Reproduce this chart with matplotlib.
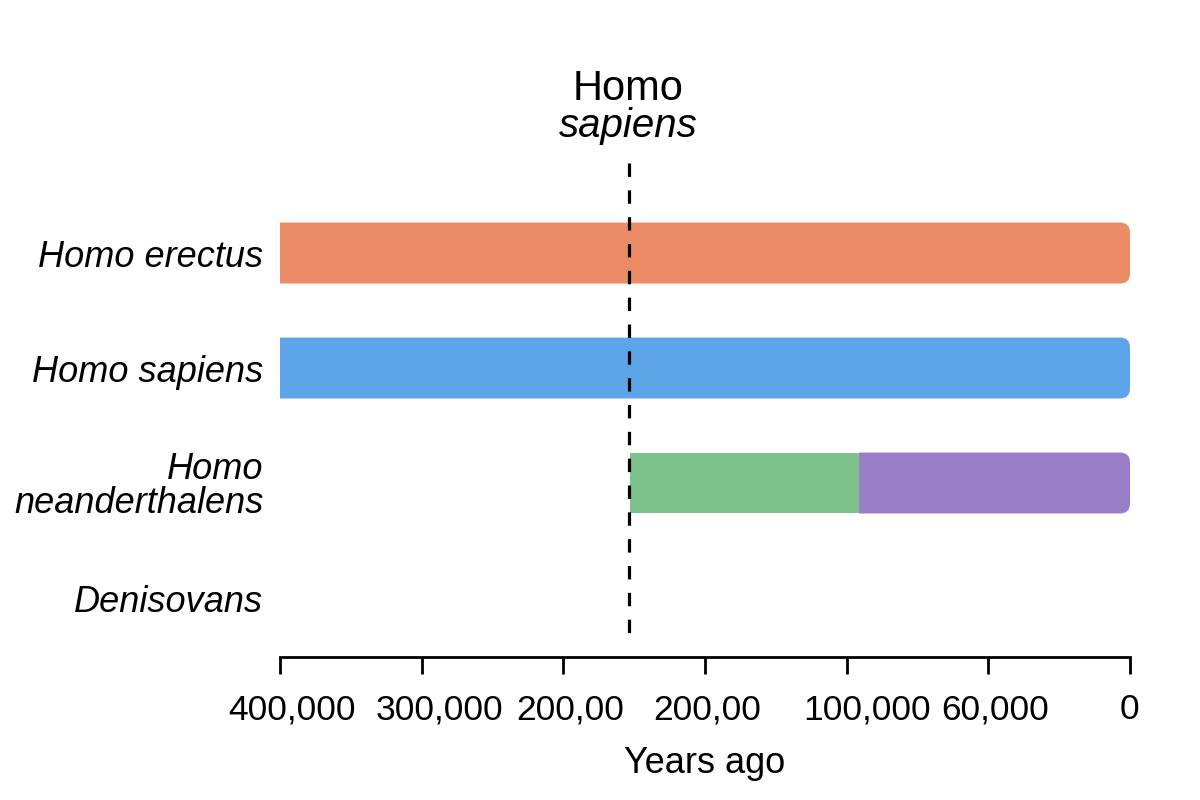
import matplotlib.pyplot as plt
from matplotlib.patches import FancyBboxPatch, Rectangle
from matplotlib.transforms import ScaledTranslation

plt.rcParams['font.family'] = ['Liberation Sans', 'DejaVu Sans']

# tick labels as printed on the axis (evenly spaced)
tick_labels = ['400,000', '300,000', '200,00', '200,00', '100,000', '60,000', '0']

species = ['Homo erectus', 'Homo sapiens', 'Homo\nneanderthalens', 'Denisovans']

# segments per species in axis (tick-index) units: (start, end, colour)
erectus_seg = [(0.0, 6.0, '#EC8C66')]
sapiens_seg = [(0.0, 6.0, '#5DA5E8')]
neander_seg = [(2.47, 4.09, '#7DC38B'), (4.09, 6.0, '#9A7EC8')]
deniso_seg = []
segments = [erectus_seg, sapiens_seg, neander_seg, deniso_seg]

sapiens_marker = 2.46

fig = plt.figure(figsize=(12, 8), dpi=100)
ax = fig.add_axes([280 / 1200, 143 / 800, 850 / 1200, 497 / 800])

ax.set_xlim(0, 6)
ax.set_ylim(3.513, -0.809)

bar_h = 0.53
rx = 10 / 141.67
aspect = (10 / 115) / rx

for i, segs in enumerate(segments):
    for j, (x0, x1, c) in enumerate(segs):
        y0 = i - bar_h / 2
        if j == len(segs) - 1:
            # rounded right end only: draw a rounded box reaching further
            # left and clip it back to the segment
            ext = 0.3
            p = FancyBboxPatch((x0 - ext, y0), x1 - x0 + ext, bar_h,
                               boxstyle=f'round,pad=0,rounding_size={rx}',
                               mutation_aspect=aspect, fc=c, ec='none',
                               zorder=2)
            ax.add_patch(p)
            clip = Rectangle((x0, y0 - 0.1), x1 - x0 + 0.2, bar_h + 0.2,
                             transform=ax.transData)
            p.set_clip_path(clip)
        else:
            ax.add_patch(Rectangle((x0, y0), x1 - x0, bar_h, fc=c, ec='none',
                                   zorder=2))

ax.plot([sapiens_marker, sapiens_marker], [-0.78, 3.38], color='black',
        lw=2.3, dashes=(4.2, 4.2), zorder=4, clip_on=False)

ax.text(sapiens_marker, -1.01, 'sapiens', ha='center', va='baseline',
        fontsize=29, style='italic', clip_on=False)
ax.text(sapiens_marker, -1.33, 'Homo', ha='center', va='baseline',
        fontsize=30, clip_on=False)

ax.set_yticks(range(len(species)))
ax.set_yticklabels(species, fontsize=26, style='italic', ha='right',
                   linespacing=0.95)
ax.tick_params(axis='y', length=0, pad=12)
for lbl in ax.get_yticklabels():
    lbl.set_multialignment('right')

ax.set_xticks(range(len(tick_labels)))
ax.set_xticklabels(tick_labels, fontsize=25.5)
ax.tick_params(axis='x', length=12, width=2, pad=14)
ax.set_xlabel('Years ago', fontsize=26, labelpad=14)

# labels in the original sit a little right of their ticks
shifts = [12, 18, 7, 2, 20, 7, -1]
for lbl, dx in zip(ax.get_xticklabels(), shifts):
    lbl.set_transform(lbl.get_transform() +
                      ScaledTranslation(dx / 100, 0, fig.dpi_scale_trans))

for s in ['top', 'right', 'left']:
    ax.spines[s].set_visible(False)
ax.spines['bottom'].set_linewidth(2)

fig.savefig('out.png', dpi=100)
